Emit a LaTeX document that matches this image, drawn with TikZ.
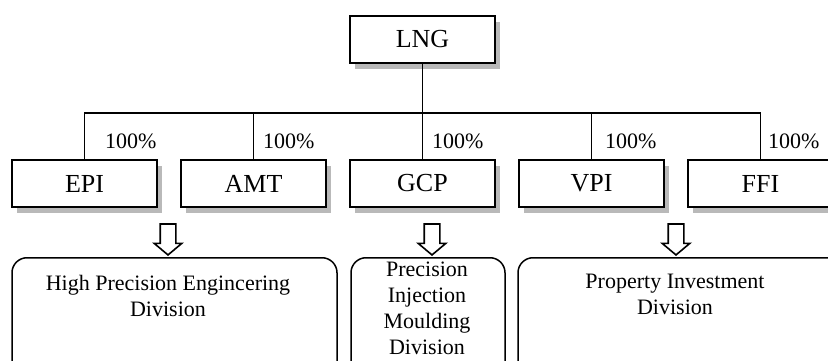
\documentclass[tikz,border=0pt]{standalone}
\usepackage{fontspec}
\setmainfont{Liberation Serif}
\usepackage{tikz}
\usetikzlibrary{shapes.arrows,shadows,calc}
\tikzstyle{company} = [rectangle, minimum width=145pt, minimum height=47pt, text centered, draw=black, line width=1.8pt, fill=white, font=\fontsize{26}{30}\selectfont, general shadow={fill=gray!55, shadow xshift=5pt, shadow yshift=-6pt}]
\tikzstyle{division} = [rectangle, rounded corners=15pt, minimum height=160pt, anchor=north, draw=black, line width=1.5pt]
\tikzstyle{divtext} = [align=center, anchor=north, inner sep=0pt, font=\fontsize{22}{26}\selectfont]
\tikzstyle{share} = [anchor=base west, inner sep=0pt, font=\fontsize{22}{26}\selectfont]
\tikzset{
  flowarrow/.style={
    single arrow,
    shape border rotate=270, % pointing down
    single arrow head extend=6pt,
    single arrow tip angle=100,
    draw, fill=white, line width=1.6pt,
    minimum height=31pt,
    inner sep=7pt
  }
}
\tikzstyle{line} = [line width=1.3pt]

\begin{document}
\begin{tikzpicture}[x=1pt, y=-1pt, node distance=169pt]
    \useasboundingbox (0,0) rectangle (828,361);
    \clip (0,0) rectangle (828,361);

    \node (epi)[company] at (84.5,183.5) {EPI};
    \node (amt)[company, right of=epi]{AMT};
    \node (gcp)[company, right of=amt]{GCP};
    \node (vpi)[company, right of=gcp]{VPI};
    \node (ffi)[company, right of=vpi]{FFI};
    \node (lng)[company, above of=gcp, node distance=144pt]{LNG};

    \coordinate (bus) at ($(lng.south)+(0,49)$);
    \draw[line] (lng) -- (bus);
    \draw[line] (bus) -| (epi);
    \draw[line] (bus) -| (amt);
    \draw[line] (bus) -- (gcp);
    \draw[line] (bus) -| (vpi);
    \draw[line] (bus) -| (ffi);

    \node (sepi)[share] at (105,148) {100\%};
    \node (samt)[share] at (263,148) {100\%};
    \node (sgcp)[share] at (432,148) {100\%};
    \node (svpi)[share] at (605,148) {100\%};
    \node (sffi)[share] at (768,148) {100\%};

    \node (div1)[division, minimum width=325pt] at (174.5,257) {};
    \node (div2)[division, minimum width=154pt] at (428,257) {};
    \node (div3)[division, minimum width=340pt] at (688,257) {};

    \node (a1)[flowarrow, anchor=tip] at (168,256) {};
    \node (a2)[flowarrow, anchor=tip] at (432,256) {};
    \node (a3)[flowarrow, anchor=tip] at (676,256) {};

    \node (t1)[divtext] at (168,275) {High Precision Engincering\\Division};
    \node (t2)[divtext] at (427,262) {Precision\\Injection\\Moulding\\Division};
    \node (t3)[divtext] at (675,274) {Property Investment\\Division};

\end{tikzpicture}
\end{document}
